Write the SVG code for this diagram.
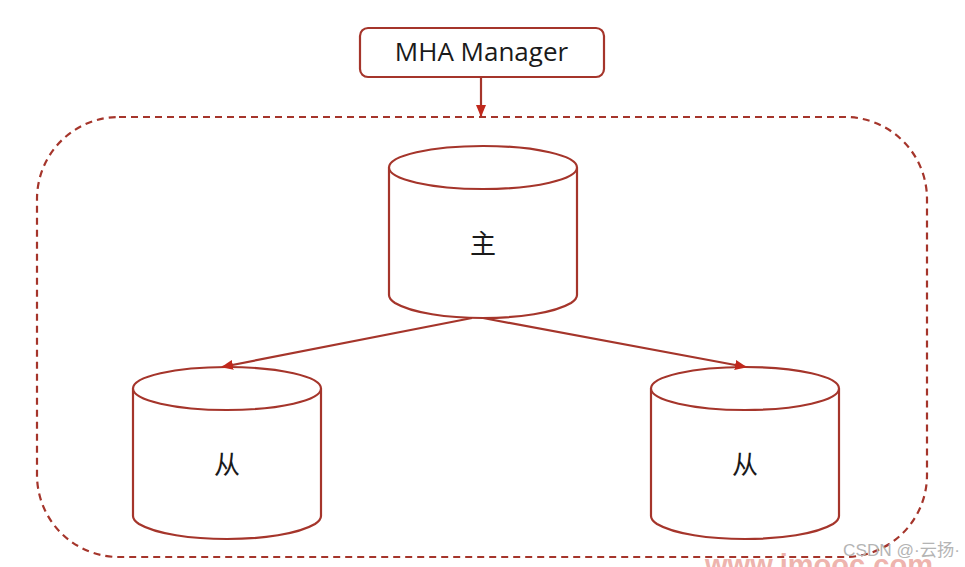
<svg xmlns="http://www.w3.org/2000/svg" width="965" height="567" viewBox="0 0 965 567">
<style>
.s{fill:#fff;stroke:#a5352b;stroke-width:2.2}
.c{fill:none;stroke:#a5352b;stroke-width:2.2}
.t{font-family:"Noto Sans CJK SC","Open Sans",sans-serif;font-size:26px;fill:#1a1a1a;text-anchor:middle}
</style>
<defs>
<marker id="a" markerUnits="userSpaceOnUse" markerWidth="12" markerHeight="10" refX="11" refY="5" orient="auto"><path d="M0 0L12 5L0 10Z" fill="#c0281c"/></marker>
<g id="cyl"><path class="s" d="M0 21.500V149Q0 153 6 157C40 177 148 177 182 157Q188 153 188 149V21.500"/><ellipse class="s" cx="94" cy="21.500" rx="94" ry="21.500"/></g>
</defs>
<rect width="965" height="567" fill="#fff"/>
<rect id="group" x="37" y="117" width="890" height="440" rx="82" fill="none" stroke="#a5352b" stroke-width="2.2" stroke-dasharray="7 5"/>
<g id="manager"><rect class="s" x="360" y="28" width="244" height="49" rx="8"/><text x="481.500" y="61" font-family="Open Sans,sans-serif" font-size="26" fill="#1a1a1a" text-anchor="middle">MHA Manager</text></g>
<g id="master"><use href="#cyl" x="389" y="146"/><text class="t" x="483" y="253">主</text></g>
<g id="slave1"><use href="#cyl" x="133" y="367"/><text class="t" x="227" y="474">从</text></g>
<g id="slave2"><use href="#cyl" x="651" y="367"/><text class="t" x="745" y="474">从</text></g>
<g id="connectors">
<path class="c" d="M481 77V116" marker-end="url(#a)"/>
<path class="c" d="M472 318L222 367" marker-end="url(#a)"/>
<path class="c" d="M483 318L746 367" marker-end="url(#a)"/>
</g>
<text x="705" y="575" font-family="Liberation Sans,sans-serif" font-weight="700" font-size="30" fill="#eeb4ae" textLength="228" lengthAdjust="spacingAndGlyphs">www.imooc.com</text>
<text x="843" y="556" font-family="Liberation Sans,Noto Sans CJK SC,sans-serif" font-size="17" fill="#b4b4b4" textLength="117" lengthAdjust="spacingAndGlyphs">CSDN @·云扬·</text>
</svg>
